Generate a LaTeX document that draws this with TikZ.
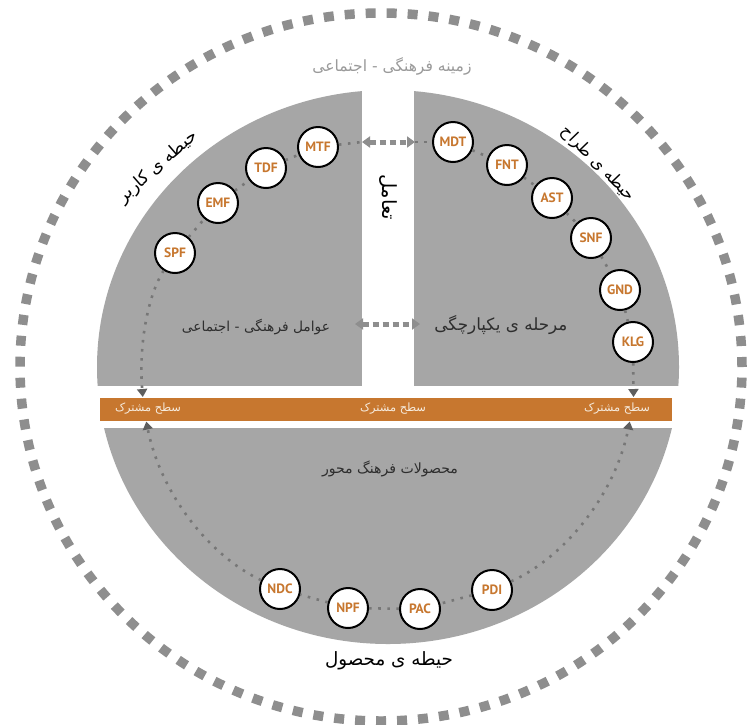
\documentclass[tikz,border=0pt]{standalone}
\usepackage{fontspec}
\usetikzlibrary{arrows.meta}
\TeXXeTstate=1
\newfontfamily\fa[Script=Arabic]{DejaVu Sans}
\newfontfamily\lat{PT Sans}
\definecolor{orng}{HTML}{C7772F}
\definecolor{grayfill}{HTML}{A6A6A6}
\definecolor{dashgray}{HTML}{8E8E8E}
\definecolor{dotgray}{HTML}{777777}
\definecolor{tipgray}{HTML}{5E5E5E}
\definecolor{toplab}{HTML}{9A9A9A}
\definecolor{darklab}{HTML}{2E2E2E}
\definecolor{cream}{HTML}{F6EBDD}
\newcommand{\fw}[2]{\resizebox{#1}{!}{\fa #2}}
\tikzset{
  fnode/.style={circle, draw=black, line width=2pt, fill=white, minimum size=40pt,
    inner sep=0pt, text=orng, font=\lat\bfseries\fontsize{13.5}{13.5}\selectfont},
  link/.style={draw=dotgray, line width=2.6pt, dash pattern=on 2.6pt off 6.5pt},
  tipped/.style={link, -{Triangle[width=10pt,length=8pt,fill=tipgray,color=tipgray]}},
  bigarrow/.style={draw=dashgray, line width=5pt, dash pattern=on 6pt off 4pt,
    {Triangle[width=11pt,length=8pt]}-{Triangle[width=11pt,length=8pt]}},
  lab/.style={inner sep=0pt},
}
\begin{document}
\begin{tikzpicture}[x=1pt, y=-1pt]
\useasboundingbox (0,0) rectangle (749,724);
\fill[white] (0,0) rectangle (749,724);
% gray disc pieces
\begin{scope}
  \clip (388,367) ellipse [x radius=291pt, y radius=277pt];
  \fill[grayfill] (0,0) rectangle (362,386);
  \fill[grayfill] (414,0) rectangle (749,386);
  \fill[grayfill] (0,428) rectangle (749,724);
\end{scope}
% orange bar
\fill[orng] (100,398) rectangle (672,421);
% outer dashed ring
\draw[dashgray, line width=9.5pt, dash pattern=on 10pt off 11pt]
  (381,367) ellipse [x radius=361pt, y radius=354pt];

% labels
\node[lab, text=toplab] (tl) at (392,66) {\fw{159pt}{\beginR زمینه فرهنگی - اجتماعی\endR}};
\node[lab, rotate=41] (ul) at (158,167) {\fw{100pt}{\beginR حیطه ی کاربر\endR}};
\node[lab, rotate=-46] (dl) at (598,164) {\fw{98pt}{\beginR حیطه ی طراح\endR}};
\node[lab, rotate=-90] (ia) at (388,197) {\fw{46pt}{\beginR تعامل\endR}};
\node[lab, text=darklab] (cf) at (256,327) {\fw{148pt}{\beginR عوامل فرهنگی - اجتماعی\endR}};
\node[lab, text=darklab] (ig) at (501,325) {\fw{133pt}{\beginR مرحله ی یکپارچگی\endR}};
\node[lab, text=darklab] (pr) at (390,469) {\fw{136pt}{\beginR محصولات فرهنگ محور\endR}};
\node[lab] (pd) at (389,661) {\fw{128pt}{\beginR حیطه ی محصول\endR}};
\node[lab, text=cream] (b1) at (148,409) {\fw{66pt}{\beginR سطح مشترک\endR}};
\node[lab, text=cream] (b2) at (393,409) {\fw{66pt}{\beginR سطح مشترک\endR}};
\node[lab, text=cream] (b3) at (617,409) {\fw{66pt}{\beginR سطح مشترک\endR}};

% factor nodes
\node[fnode] (MTF) at (318,147) {MTF};
\node[fnode] (TDF) at (266,168) {TDF};
\node[fnode] (EMF) at (218,203) {EMF};
\node[fnode] (SPF) at (175,253) {SPF};
\node[fnode] (MDT) at (453,142) {MDT};
\node[fnode] (FNT) at (507,165) {FNT};
\node[fnode] (AST) at (552,198) {AST};
\node[fnode] (SNF) at (591,238) {SNF};
\node[fnode] (GND) at (620,290) {GND};
\node[fnode] (KLG) at (633,342) {KLG};
\node[fnode] (NDC) at (280,589) {NDC};
\node[fnode] (NPF) at (348,608) {NPF};
\node[fnode] (PAC) at (420,609) {PAC};
\node[fnode] (PDI) at (492,590) {PDI};

% coordinates
\coordinate (tA1) at (362,142);
\coordinate (tA2) at (415,142);
\coordinate (mA1) at (355,324);
\coordinate (mA2) at (420,324);
\coordinate (aLt) at (142.8,397);
\coordinate (aLb) at (146.3,421.5);
\coordinate (aRt) at (633.5,397);
\coordinate (aRb) at (629.7,421.5);

% connectors
\draw[link] (SPF) -- (EMF);
\draw[link] (EMF) -- (TDF);
\draw[link] (TDF) -- (MTF);
\draw[link] (MTF) -- (tA1);
\draw[link] (tA2) -- (MDT);
\draw[link] (MDT) -- (FNT);
\draw[link] (FNT) -- (AST);
\draw[link] (AST) -- (SNF);
\draw[link] (SNF) -- (GND);
\draw[link] (GND) -- (KLG);
\draw[link] (PDI) -- (PAC);
\draw[link] (PAC) -- (NPF);
\draw[link] (NPF) -- (NDC);
\draw[tipped] (SPF) .. controls (147.5,295.7) and (138.6,345.9) .. (aLt);
\draw[tipped] (KLG) -- (aRt);
\draw[tipped] (NDC) .. controls (210.2,556.3) and (160.7,494.3) .. (aLb);
\draw[tipped] (PDI) .. controls (563.6,557.8) and (615.0,495.5) .. (aRb);
\draw[bigarrow] (tA1) -- (tA2);
\draw[bigarrow] (mA1) -- (mA2);
\end{tikzpicture}
\end{document}
